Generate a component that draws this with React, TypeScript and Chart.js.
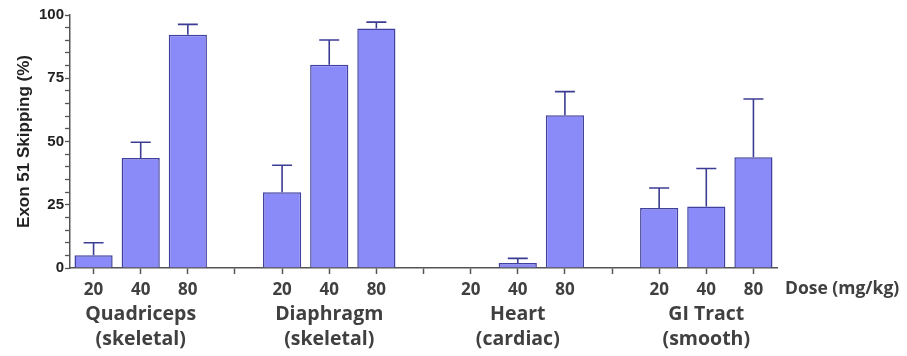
import React, { useEffect, useRef } from "react";
import { Chart, registerables } from "chart.js";

Chart.register(...registerables);

const doseLabels = ["20", "40", "80", "", "20", "40", "80", "", "20", "40", "80", "", "20", "40", "80"];
const groupNames = ["Quadriceps", "Diaphragm", "Heart", "GI Tract"];
const groupTypes = ["(skeletal)", "(skeletal)", "(cardiac)", "(smooth)"];
const groupCenterIndex = [1, 5, 9, 13];
const skipping = [5, 43.5, 92.2, null, 29.9, 80.3, 94.7, null, 0, 2.0, 60.4, null, 23.7, 24.3, 43.8];
const errorUp = [5, 6.2, 4.1, null, 10.7, 9.8, 2.5, null, null, 1.8, 9.3, null, 7.9, 15, 23];
const yTicks = [0, 25, 50, 75, 100];
const yTitle = "Exon 51 Skipping (%)";
const xUnitLabel = "Dose (mg/kg)";

const FAMILY = "'Open Sans', sans-serif";
const LABEL_FONT = { family: FAMILY, size: 17, weight: "bold" as const, lineHeight: 1.4 };

const errorBarPlugin = {
  id: "errorBars",
  afterDatasetsDraw(chart: any) {
    const meta = chart.getDatasetMeta(0);
    const y = chart.scales.y;
    const ctx = chart.ctx;
    ctx.save();
    ctx.strokeStyle = "#3c3c94";
    ctx.lineWidth = 1.6;
    meta.data.forEach((bar: any, i: number) => {
      const v = skipping[i];
      const e = errorUp[i];
      if (v == null || e == null) return;
      const yTop = y.getPixelForValue(v);
      const yErr = y.getPixelForValue(v + e);
      ctx.beginPath();
      ctx.moveTo(bar.x, yTop);
      ctx.lineTo(bar.x, yErr);
      ctx.moveTo(bar.x - 10, yErr);
      ctx.lineTo(bar.x + 10, yErr);
      ctx.stroke();
    });
    ctx.restore();
  },
  afterDraw(chart: any) {
    const ctx = chart.ctx;
    const x = chart.scales.x;
    ctx.save();
    ctx.fillStyle = "#404040";
    ctx.font = `bold 17.5px ${FAMILY}`;
    ctx.textAlign = "left";
    ctx.textBaseline = "middle";
    ctx.fillText(xUnitLabel, x.right + 8, 289);
    ctx.font = `bold 19.5px ${FAMILY}`;
    ctx.textAlign = "center";
    ctx.textBaseline = "alphabetic";
    groupCenterIndex.forEach((idx, g) => {
      const px = x.getPixelForTick(idx);
      ctx.fillText(groupNames[g], px, 320);
      ctx.fillText(groupTypes[g], px, 345);
    });
    ctx.restore();
  },
};

export default function App() {
  const ref = useRef<HTMLCanvasElement | null>(null);
  useEffect(() => {
    if (!ref.current) return;
    const chart = new Chart(ref.current, {
      type: "bar",
      data: {
        labels: doseLabels,
        datasets: [
          {
            data: skipping as any,
            backgroundColor: "#8a8af9",
            borderColor: "#40409e",
            borderWidth: 1.5,
            barPercentage: 0.81,
            categoryPercentage: 1,
          },
        ],
      },
      options: {
        animation: false,
        responsive: false,
        maintainAspectRatio: false,
        layout: { padding: { top: 15, right: 130, left: 0, bottom: 0 } },
        plugins: { legend: { display: false }, tooltip: { enabled: false } },
        scales: {
          x: {
            offset: true,
            afterFit: (s: any) => {
              s.height = 88;
            },
            grid: {
              offset: false,
              drawOnChartArea: false,
              drawTicks: true,
              tickLength: 6,
              tickColor: "#555",
              tickWidth: 1.5,
            },
            border: { color: "#555", width: 1.5 },
            ticks: {
              autoSkip: false,
              maxRotation: 0,
              padding: 4,
              color: "#404040",
              font: LABEL_FONT,
            },
          },
          y: {
            min: 0,
            max: 100,
            afterFit: (s: any) => {
              s.width = 70;
            },
            grid: {
              drawOnChartArea: false,
              drawTicks: true,
              tickLength: 5,
              tickColor: "#555",
              tickWidth: 1.3,
            },
            border: { color: "#555", width: 1.5 },
            ticks: {
              stepSize: 5,
              autoSkip: false,
              padding: 1,
              color: "#222",
              font: { family: "'Liberation Sans', Arial, sans-serif", size: 15, weight: "bold" },
              callback: (v: any) => (yTicks.includes(Number(v)) ? String(v) : ""),
            },
            title: {
              display: true,
              text: yTitle,
              color: "#222",
              font: { family: "'Liberation Sans', Arial, sans-serif", size: 17, weight: "bold" },
              padding: { top: 14, bottom: 0 },
            },
          },
        },
      },
      plugins: [errorBarPlugin],
    });
    return () => chart.destroy();
  }, []);
  return (
    <div style={{ position: "fixed", left: 0, top: 0, width: 907, height: 356, background: "#fff" }}>
      <canvas ref={ref} width={907} height={356} style={{ width: 907, height: 356 }} />
    </div>
  );
}
